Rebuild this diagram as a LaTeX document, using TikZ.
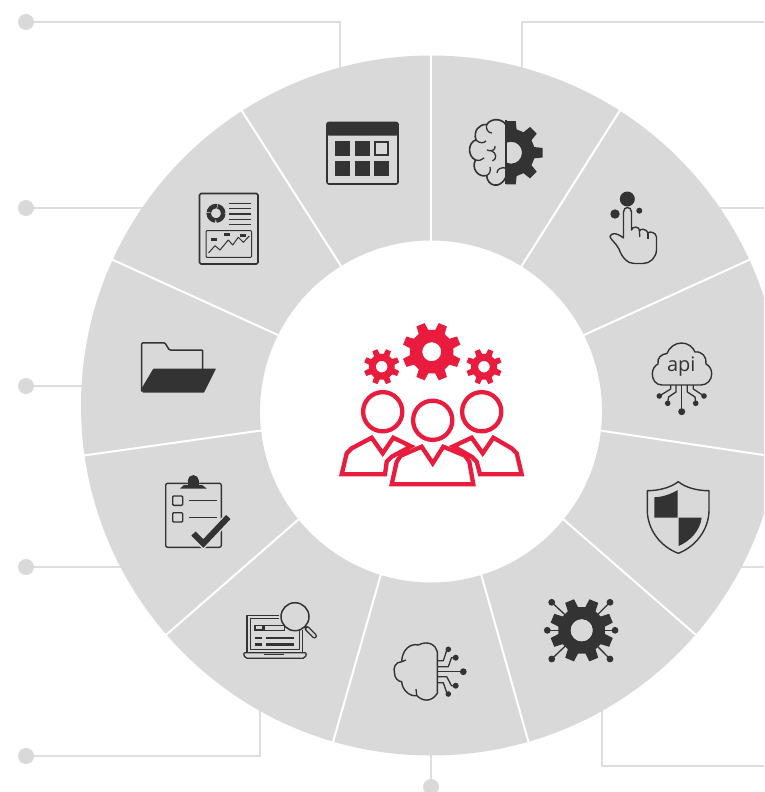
\documentclass[tikz,border=0pt]{standalone}
\usepackage{fontspec}
\newfontfamily\apifont{Open Sans}
\definecolor{ringgrey}{HTML}{D9D9D9}
\definecolor{connline}{HTML}{DEDEDE}
\definecolor{icondark}{HTML}{333333}
\definecolor{teamred}{HTML}{EA1C3D}
\tikzset{
  conn/.style={draw=connline,line width=1.3pt},
  dotnode/.style={circle,fill=ringgrey,inner sep=0pt,minimum size=16pt},
  spoke/.style={draw=white,line width=2pt},
  ico/.style={draw=icondark,line width=1.6pt,line join=round,line cap=round},
  icothin/.style={draw=icondark,line width=1.3pt,line join=round},
  icofill/.style={fill=icondark},
  team/.style={draw=teamred,line width=4.3pt,line join=miter,fill=none}
}
% x, y, R, r, teeth, hole, phase, fill colour
\newcommand{\mygear}[8]{%
  \begin{scope}[shift={(#1,#2)}]
    \pgfmathsetmacro{\gstep}{360/#5}
    \pgfmathsetmacro{\gin}{0.30*\gstep}
    \pgfmathsetmacro{\gout}{0.19*\gstep}
    \fill[#8,even odd rule] (#7-\gin:#4)
      \foreach \gi in {1,...,#5} {
        -- ({#7+(\gi-1)*\gstep-\gin}:#4)
        -- ({#7+(\gi-1)*\gstep-\gout}:#3)
        -- ({#7+(\gi-1)*\gstep+\gout}:#3)
        -- ({#7+(\gi-1)*\gstep+\gin}:#4)
        -- ({#7+\gi*\gstep-\gin}:#4)
      } -- cycle (0,0) circle (#6);
  \end{scope}}
\begin{document}
\begin{tikzpicture}[x=1pt,y=-1pt]
\useasboundingbox (0,0) rectangle (764,792);
\clip (0,0) rectangle (764,792);
\fill[white] (0,0) rectangle (764,792);

% connectors
\node[dotnode] (d1) at (26,22) {};
\node[dotnode] (d2) at (26,208) {};
\node[dotnode] (d3) at (26,386) {};
\node[dotnode] (d4) at (26,567) {};
\node[dotnode] (d5) at (26,756) {};
\node[dotnode] (d6) at (431,787) {};
\coordinate (e1) at (340,70);
\coordinate (e2) at (522,70);
\coordinate (e3) at (160,208);
\coordinate (e4) at (100,386);
\coordinate (e5) at (135,567);
\coordinate (e6) at (260,700);
\coordinate (e7) at (431,750);
\coordinate (e8) at (602,700);
\coordinate (r2) at (764,22);
\coordinate (r3) at (764,208);
\coordinate (r3e) at (710,208);
\coordinate (r4) at (764,567);
\coordinate (r4e) at (730,567);
\coordinate (r8) at (764,766);
\draw[conn] (d1) -| (e1);
\draw[conn] (e2) |- (r2);
\draw[conn] (d2) -- (e3);
\draw[conn] (d3) -- (e4);
\draw[conn] (d4) -- (e5);
\draw[conn] (d5) -| (e6);
\draw[conn] (d6) -- (e7);
\draw[conn] (e8) |- (r8);
\draw[conn] (r3e) -- (r3);
\draw[conn] (r4e) -- (r4);

% ring
\fill[ringgrey,even odd rule] (431,405.5) circle (350) (431,411.5) circle (171);
\draw[spoke] (431,54) -- (431,241);
\draw[spoke] (620.5,109.5) -- (521,267);
\draw[spoke] (750,259.5) -- (584,335);
\draw[spoke] (770,456) -- (600,430.5);
\draw[spoke] (696,635) -- (563,519);
\draw[spoke] (528.5,742) -- (481,574);
\draw[spoke] (333,742) -- (381,574);
\draw[spoke] (166,635) -- (299,519);
\draw[spoke] (84,455.5) -- (261,430.5);
\draw[spoke] (112,259.5) -- (278,335);
\draw[spoke] (241,109.5) -- (341,266);

% centre team
\mygear{431.7}{351.7}{29.5}{22}{8}{9.5}{22.5}{teamred}
\mygear{381.7}{366.7}{18}{13}{8}{5.8}{22.5}{teamred}
\mygear{484}{366.7}{18}{13}{8}{5.8}{22.5}{teamred}
\draw[team] (382.7,411.7) circle (19.6);
\draw[team] (481.7,411.7) circle (19.6);
\draw[team] (432.7,420.3) circle (19.6);
\draw[team] (385,474.3) -- (341.7,474.3) -- (346.7,453.3) -- (351.7,448.3) -- (371.7,437.7) -- (382.7,453.3) -- (393.3,437.7) -- (411,446.3) -- (391.7,456.7) -- (386.7,461.7) -- cycle;
\draw[team] (480,474.3) -- (521.7,474.3) -- (516.7,453.3) -- (511.7,448.3) -- (493.3,437.7) -- (482.7,453.3) -- (471.7,437.7) -- (453.3,446.3) -- (471.7,456.7) -- (476.7,461.7) -- cycle;
\draw[team] (391.7,484.3) -- (473.3,484.3) -- (469.3,461.7) -- (465,455.7) -- (443.3,446.7) -- (432.7,463.3) -- (421.7,446.7) -- (400.7,455.7) -- (396.7,461.7) -- cycle;

% calendar
\draw[ico,rounded corners=2pt] (327,122.5) rectangle (398,184);
\fill[icondark,rounded corners=2pt] (326.5,122) rectangle (398.5,135.5);
\fill[icondark] (335,141) rectangle (350,156);
\fill[icondark] (355,141) rectangle (370,156);
\draw[icondark,line width=1.4pt] (375,142) rectangle (388,155);
\fill[icondark] (335,161) rectangle (350,176);
\fill[icondark] (355,161) rectangle (370,176);
\fill[icondark] (374,161) rectangle (389,176);

% brain + gear
\begin{scope}
  \clip (506,110) rectangle (550,195);
  \mygear{511}{152.7}{32}{24}{8}{11}{0}{icondark}
\end{scope}
\draw[ico,fill=none] (506,125) .. controls (503,119) and (492,117) .. (486.7,124.5)
  .. controls (479,124) and (473,131) .. (476,140)
  .. controls (468,142) and (467,156) .. (475.5,160)
  .. controls (471,168) and (478,178) .. (486.7,175.5)
  .. controls (487,186) and (500,190) .. (506,177);
\draw[icothin] (506,120) -- (506,184);
\draw[icothin] (486.7,124.5) .. controls (485.5,129) and (488,133) .. (492,133);
\draw[icothin] (476,140) .. controls (480,144) and (484,143) .. (486,141);
\draw[icothin] (475.5,160) .. controls (479,161) and (482,160) .. (484,158);
\draw[icothin] (486.7,175.5) .. controls (490,174) and (491,170) .. (490,167);
\draw[icothin] (487,150) .. controls (491,152) and (496,150) .. (495,146);
\draw[icothin] (491,150.5) .. controls (497,153) and (497,159) .. (492.5,161);
\draw[icothin] (506,168) .. controls (501,167) and (497,169) .. (497,173);

% report
\draw[ico,rounded corners=1.5pt] (199.5,193.5) rectangle (258,264);
\draw[icondark,line width=4.6pt,dash pattern=on 11pt off 0.8pt] (216,213.3) circle (7.2);
\foreach \ly in {203.3,208.7,214,219.3,224.7}{\draw[icothin] (229.3,\ly) -- (251,\ly);}
\draw[icondark,line width=1pt,rounded corners=1pt] (206,230.7) rectangle (251.7,257.3);
\draw[icothin,line width=1pt] (208.5,253) -- (215,245.7) -- (220,250) -- (228.3,240) -- (232.7,245) -- (238.3,237.3) -- (243.3,242.3) -- (249.3,236);
\fill[icondark] (211,238) rectangle (217.3,240.7);
\fill[icondark] (224,233) rectangle (230,235.7);
\fill[icondark] (240,234) rectangle (246.3,236.7);

% folder
\draw[ico,line width=1.5pt,rounded corners=1pt] (141.7,391) -- (141.7,342.9) -- (165,342.9) -- (169.3,350) -- (202.7,350) -- (202.7,369);
\fill[icondark,rounded corners=.5pt] (153.3,368.7) -- (216,368.7) -- (204,392.7) -- (142.7,392.7) -- (141.5,388.5) -- cycle;

% touch
\fill[icondark] (627.3,199) circle (7.5);
\fill[icondark] (615,214) circle (4.7);
\fill[icondark] (639.3,210.7) circle (3);
\draw[ico,line width=1.4pt] (623.5,238) -- (623.5,212) .. controls (623.5,206) and (631.5,206) .. (631.5,212)
  -- (631.5,230) .. controls (632,226) and (640,226) .. (639.5,231)
  .. controls (640,228) and (647,229) .. (648,233)
  .. controls (649,231) and (656,232) .. (656.5,237)
  -- (656.5,250) .. controls (656,258) and (650,263.5) .. (643,263.5)
  -- (634,263.5) .. controls (628,263.5) and (622,258) .. (619,249)
  .. controls (616,243) and (610,239) .. (610,236.5)
  .. controls (611,233) and (616,232) .. (623.5,238);
\draw[icothin] (639.5,231) -- (639.7,237);
\draw[icothin] (648,233) -- (648,238.5);

% api cloud
\draw[ico,line width=1.4pt] (662,385) .. controls (656,385) and (652.3,380) .. (652.3,374)
  .. controls (652.3,369) and (655,365.5) .. (658,364)
  .. controls (657,358) and (661,354) .. (667,353.5)
  .. controls (669,347.5) and (675,343) .. (681.5,343)
  .. controls (688,343) and (693,347) .. (695,352)
  .. controls (702,351) and (707,357) .. (706,364)
  .. controls (710,366) and (711.7,370) .. (711.7,374)
  .. controls (711.7,380) and (707,385) .. (701,385) -- cycle;
\node[inner sep=0pt,text=icondark] (apitext) at (681.3,367) {\apifont\fontsize{20}{20}\selectfont api};
\draw[icothin] (681.7,385) -- (681.7,410);
\fill[icondark] (681.7,411.7) circle (3.5);
\draw[icothin] (676,385) -- (676,392) -- (668.5,397) -- (667.7,403);
\draw[icothin] (687.3,385) -- (687.3,392) -- (695,397) -- (695.7,403);
\draw[icothin] (670.7,385) -- (670.7,389) -- (659.3,396);
\draw[icothin] (693.3,385) -- (693.3,389) -- (704,396);
\foreach \dx/\dy in {667.7/403.3,695.7/403.3,659.3/396,704/396}{\fill[icondark] (\dx,\dy) circle (2.8);}

% shield
\draw[ico,line width=1.4pt] (678.3,481.7) .. controls (686,488) and (698,490.7) .. (709,490.7)
  -- (709,510) .. controls (709,530) and (695,547) .. (678.3,553.3)
  .. controls (661,547) and (647.3,530) .. (647.3,510)
  -- (647.3,490.7) .. controls (658,490.7) and (670,488) .. cycle;
\fill[icondark] (654.3,497.3) .. controls (663,497) and (671,494) .. (677.7,490) -- (677.7,517.7) -- (654.3,517.7) -- cycle;
\fill[icondark] (678.7,517.7) -- (701.7,517.7) .. controls (700,531) and (690,541) .. (678.7,546) -- cycle;

% network gear
\coordinate (ngc) at (581.7,630.3);
\foreach \nx/\ny in {551.7/602.3,610/602.3,551.7/659,610/659,547.3/630.3,615/630.3}{
  \draw[icothin] (ngc) -- (\nx,\ny);
  \fill[icondark] (\nx,\ny) circle (3.4);
}
\mygear{581.7}{630.3}{32}{23.5}{8}{11}{22.5}{icondark}
\fill[ringgrey] (581.7,630.3) circle (11);

% cloud circuit
\draw[ico,line width=1.4pt] (437.3,651.7) .. controls (436,645) and (428,640) .. (418.3,645)
  .. controls (410,643) and (402,650) .. (401.7,661.7)
  .. controls (395,662) and (393,668) .. (394.5,673)
  .. controls (394.5,678) and (398,681.5) .. (401.7,681.7)
  .. controls (402,690) and (410,697) .. (416.7,695.5)
  .. controls (422,701) and (431,703) .. (437.3,693.3) -- cycle;
\draw[icothin] (401.7,661.7) -- (406,660);
\draw[icothin] (416.7,695.5) -- (416,689);
\draw[icothin] (437.3,660.7) -- (443.3,660.7) -- (446.5,651);
\draw[icothin] (437.3,666.7) -- (448.3,666.7) -- (451.5,657.7) -- (455.7,657.7);
\draw[icothin] (437.3,671.7) -- (463.3,671.7);
\draw[icothin] (437.3,676.7) -- (446.7,676.7) -- (451.5,685.7) -- (455.7,685.7);
\draw[icothin] (437.3,682.7) -- (443.3,682.7) -- (446.5,692);
\foreach \cx/\cy/\cr in {448.3/649.3/2.8,455.7/657.7/3,463.3/671.7/3.4,455.7/685.7/3,448.3/694/2.8}{\fill[icondark] (\cx,\cy) circle (\cr);}

% clipboard
\draw[ico,line width=1.4pt,rounded corners=2pt] (165.7,483.3) rectangle (221.3,547.3);
\fill[icondark] (180,488.5) -- (184,485) -- (202,485) -- (206.7,488.5) -- cycle;
\fill[icondark] (193.3,480.7) circle (5.6);
\fill[icondark] (187.7,481) rectangle (199,486);
\draw[ico,line width=1.4pt,rounded corners=1pt] (172.7,496) rectangle (182.7,505.3);
\draw[ico,line width=1.4pt,rounded corners=1pt] (172.7,512.7) rectangle (182.7,522);
\draw[icothin] (189.3,500.7) -- (216.7,500.7);
\draw[icothin] (189.3,517.7) -- (216.7,517.7);
\draw[draw=ringgrey,line width=9pt] (192.5,532.5) -- (203.3,543.5) -- (229,516.5);
\draw[draw=icondark,line width=6pt] (193.5,533.5) -- (203.3,543.5) -- (228.3,517);

% laptop
\draw[icothin] (278.5,615.5) -- (247,615.5) -- (247,652.5) -- (302.7,652.5) -- (302.7,630);
\draw[icothin] (278.5,618.5) -- (250.3,618.5) -- (250.3,649.3) -- (299.7,649.3) -- (299.7,630);
\draw[ico,line width=1.3pt,rounded corners=2pt] (243.3,652.7) -- (306.7,652.7) -- (305,658.3) -- (245,658.3) -- cycle;
\draw[icothin,line width=1pt] (263.5,654) -- (283.5,654);
\draw[icothin,line width=1pt] (254.5,625) rectangle (284,630);
\fill[icondark] (254.5,625) rectangle (265,630);
\fill[ringgrey] (256,626.3) rectangle (262,628.7);
\fill[icondark] (255,636.7) rectangle (261.7,639);
\fill[icondark] (266,636.7) rectangle (294,639);
\fill[icondark] (255,643.3) rectangle (261.7,645.7);
\fill[icondark] (266,643.3) rectangle (294,645.7);
\draw[ico,line width=1.5pt,fill=ringgrey] (295,616.7) circle (14);
\draw[draw=icondark,line width=5pt,line cap=round] (307,628.5) -- (314.5,636);
\draw[draw=ringgrey,line width=2.2pt,line cap=round] (307.5,629) -- (314.5,636);
\end{tikzpicture}
\end{document}
